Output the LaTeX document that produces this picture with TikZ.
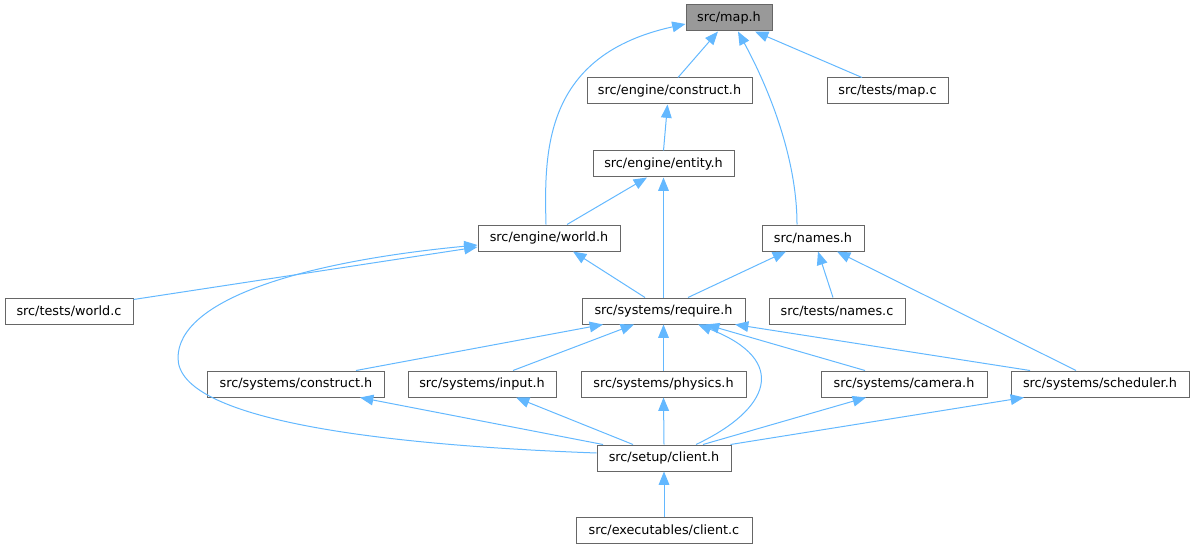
\documentclass[tikz,border=0pt]{standalone}
\usepackage{fontspec}
\setmainfont{DejaVu Sans}
\usepackage{tikz}
\usetikzlibrary{arrows.meta,calc}
\definecolor{edgeblue}{HTML}{63B8FF}
\definecolor{boxgray}{HTML}{666666}
\definecolor{curfill}{HTML}{999999}
\tikzset{filebox/.style={draw=boxgray, line width=0.75pt, fill=white,
   minimum height=19.5pt, inner sep=0pt,
   font=\fontsize{9.6}{11}\selectfont},
 curbox/.style={filebox, fill=curfill},
 boxw/.style={minimum width=#1*0.75pt},
 incl/.style={draw=edgeblue, line width=0.75pt,
   -{Triangle[length=10pt,width=8pt]}},
 }

\begin{document}
\begin{tikzpicture}[x=0.75pt,y=-0.75pt]
        \useasboundingbox (0,0) rectangle (1195,549);
        \node[curbox, boxw=86] (map) at (729,18) {src/map.h};
        \node[filebox, boxw=165] (econstruct) at (669.5,91) {src/engine/construct.h};
        \node[filebox, boxw=121] (tmap) at (887.5,91) {src/tests/map.c};
        \node[filebox, boxw=141] (entity) at (663.5,164) {src/engine/entity.h};
        \node[filebox, boxw=142] (world) at (549,238) {src/engine/world.h};
        \node[filebox, boxw=102] (names) at (813,238) {src/names.h};
        \node[filebox, boxw=128] (tworld) at (69,311) {src/tests/world.c};
        \node[filebox, boxw=163] (require) at (663.5,311) {src/systems/require.h};
        \node[filebox, boxw=136] (tnames) at (837,311) {src/tests/names.c};
        \node[filebox, boxw=177] (sconstruct) at (296,384) {src/systems/construct.h};
        \node[filebox, boxw=148] (input) at (482,384) {src/systems/input.h};
        \node[filebox, boxw=165] (physics) at (663.5,384) {src/systems/physics.h};
        \node[filebox, boxw=166] (camera) at (904,384) {src/systems/camera.h};
        \node[filebox, boxw=178] (scheduler) at (1100,384) {src/systems/scheduler.h};
        \node[filebox, boxw=134] (client) at (664,458) {src/setup/client.h};
        \node[filebox, boxw=176] (eclient) at (664,530) {src/executables/client.c};

        \draw[incl] ($(econstruct.north)+(8.5,0)$) -- ($(map.south)+(-11,0)$);
        \draw[incl] ($(tmap.north)+(-25.5,0)$) -- ($(map.south)+(26,0)$);
        \draw[incl] ($(names.north)+(-16,0)$) .. controls +(0,-65) and +(32,59) .. ($(map.south)+(9,0)$);
        \draw[incl] ($(world.north)+(-3,0)$) .. controls +(-2,-75) and +(-141,31) .. ($(map.west)+(0,6)$);
        \draw[incl] (entity.north) -- ($(econstruct.south)+(-2,0)$);
        \draw[incl] ($(world.north)+(18,0)$) -- ($(entity.south)+(-16.5,0)$);
        \draw[incl] (require.north) -- (entity.south);
        \draw[incl] ($(require.north)+(-18.5,0)$) -- ($(world.south)+(24,0)$);
        \draw[incl] ($(require.north)+(24.5,0)$) -- ($(names.south)+(-27,0)$);
        \draw[incl] ($(tnames.north)+(-4,0)$) -- ($(names.south)+(5,0)$);
        \draw[incl] ($(scheduler.north)+(-24,0)$) -- ($(names.south)+(24,0)$);
        \draw[incl] ($(tworld.north east)+(0,2)$) -- ($(world.west)+(0,9)$);
        \draw[incl] ($(client.west)+(0,-5)$) .. controls (380,445) and (178,420) .. (178,358)
            .. controls (178,300) and (300,262) .. ($(world.west)+(0,7)$);
        \draw[incl] ($(sconstruct.north)+(60,0)$) -- ($(require.south)+(-60.5,0)$);
        \draw[incl] ($(input.north)+(31,0)$) -- ($(require.south)+(-29.5,0)$);
        \draw[incl] (physics.north) -- (require.south);
        \draw[incl] ($(camera.north)+(-39,0)$) -- ($(require.south)+(42.5,0)$);
        \draw[incl] ($(scheduler.north)+(-70,0)$) -- ($(require.south)+(71.5,0)$);
        \draw[incl] ($(client.north)+(32,0)$) .. controls +(74,-35) and +(92,36) .. ($(require.south)+(34.5,0)$);
        \draw[incl] ($(client.north)+(-61,0)$) -- ($(sconstruct.south)+(64,0)$);
        \draw[incl] ($(client.north)+(-31,0)$) -- ($(input.south)+(34,0)$);
        \draw[incl] (client.north) -- (physics.south);
        \draw[incl] ($(client.north)+(39,0)$) -- ($(camera.south)+(-38,0)$);
        \draw[incl] ($(client.north east)+(-1,0)$) -- ($(scheduler.south)+(-76,0)$);
        \draw[incl] (eclient.north) -- (client.south);
    \end{tikzpicture}
\end{document}
